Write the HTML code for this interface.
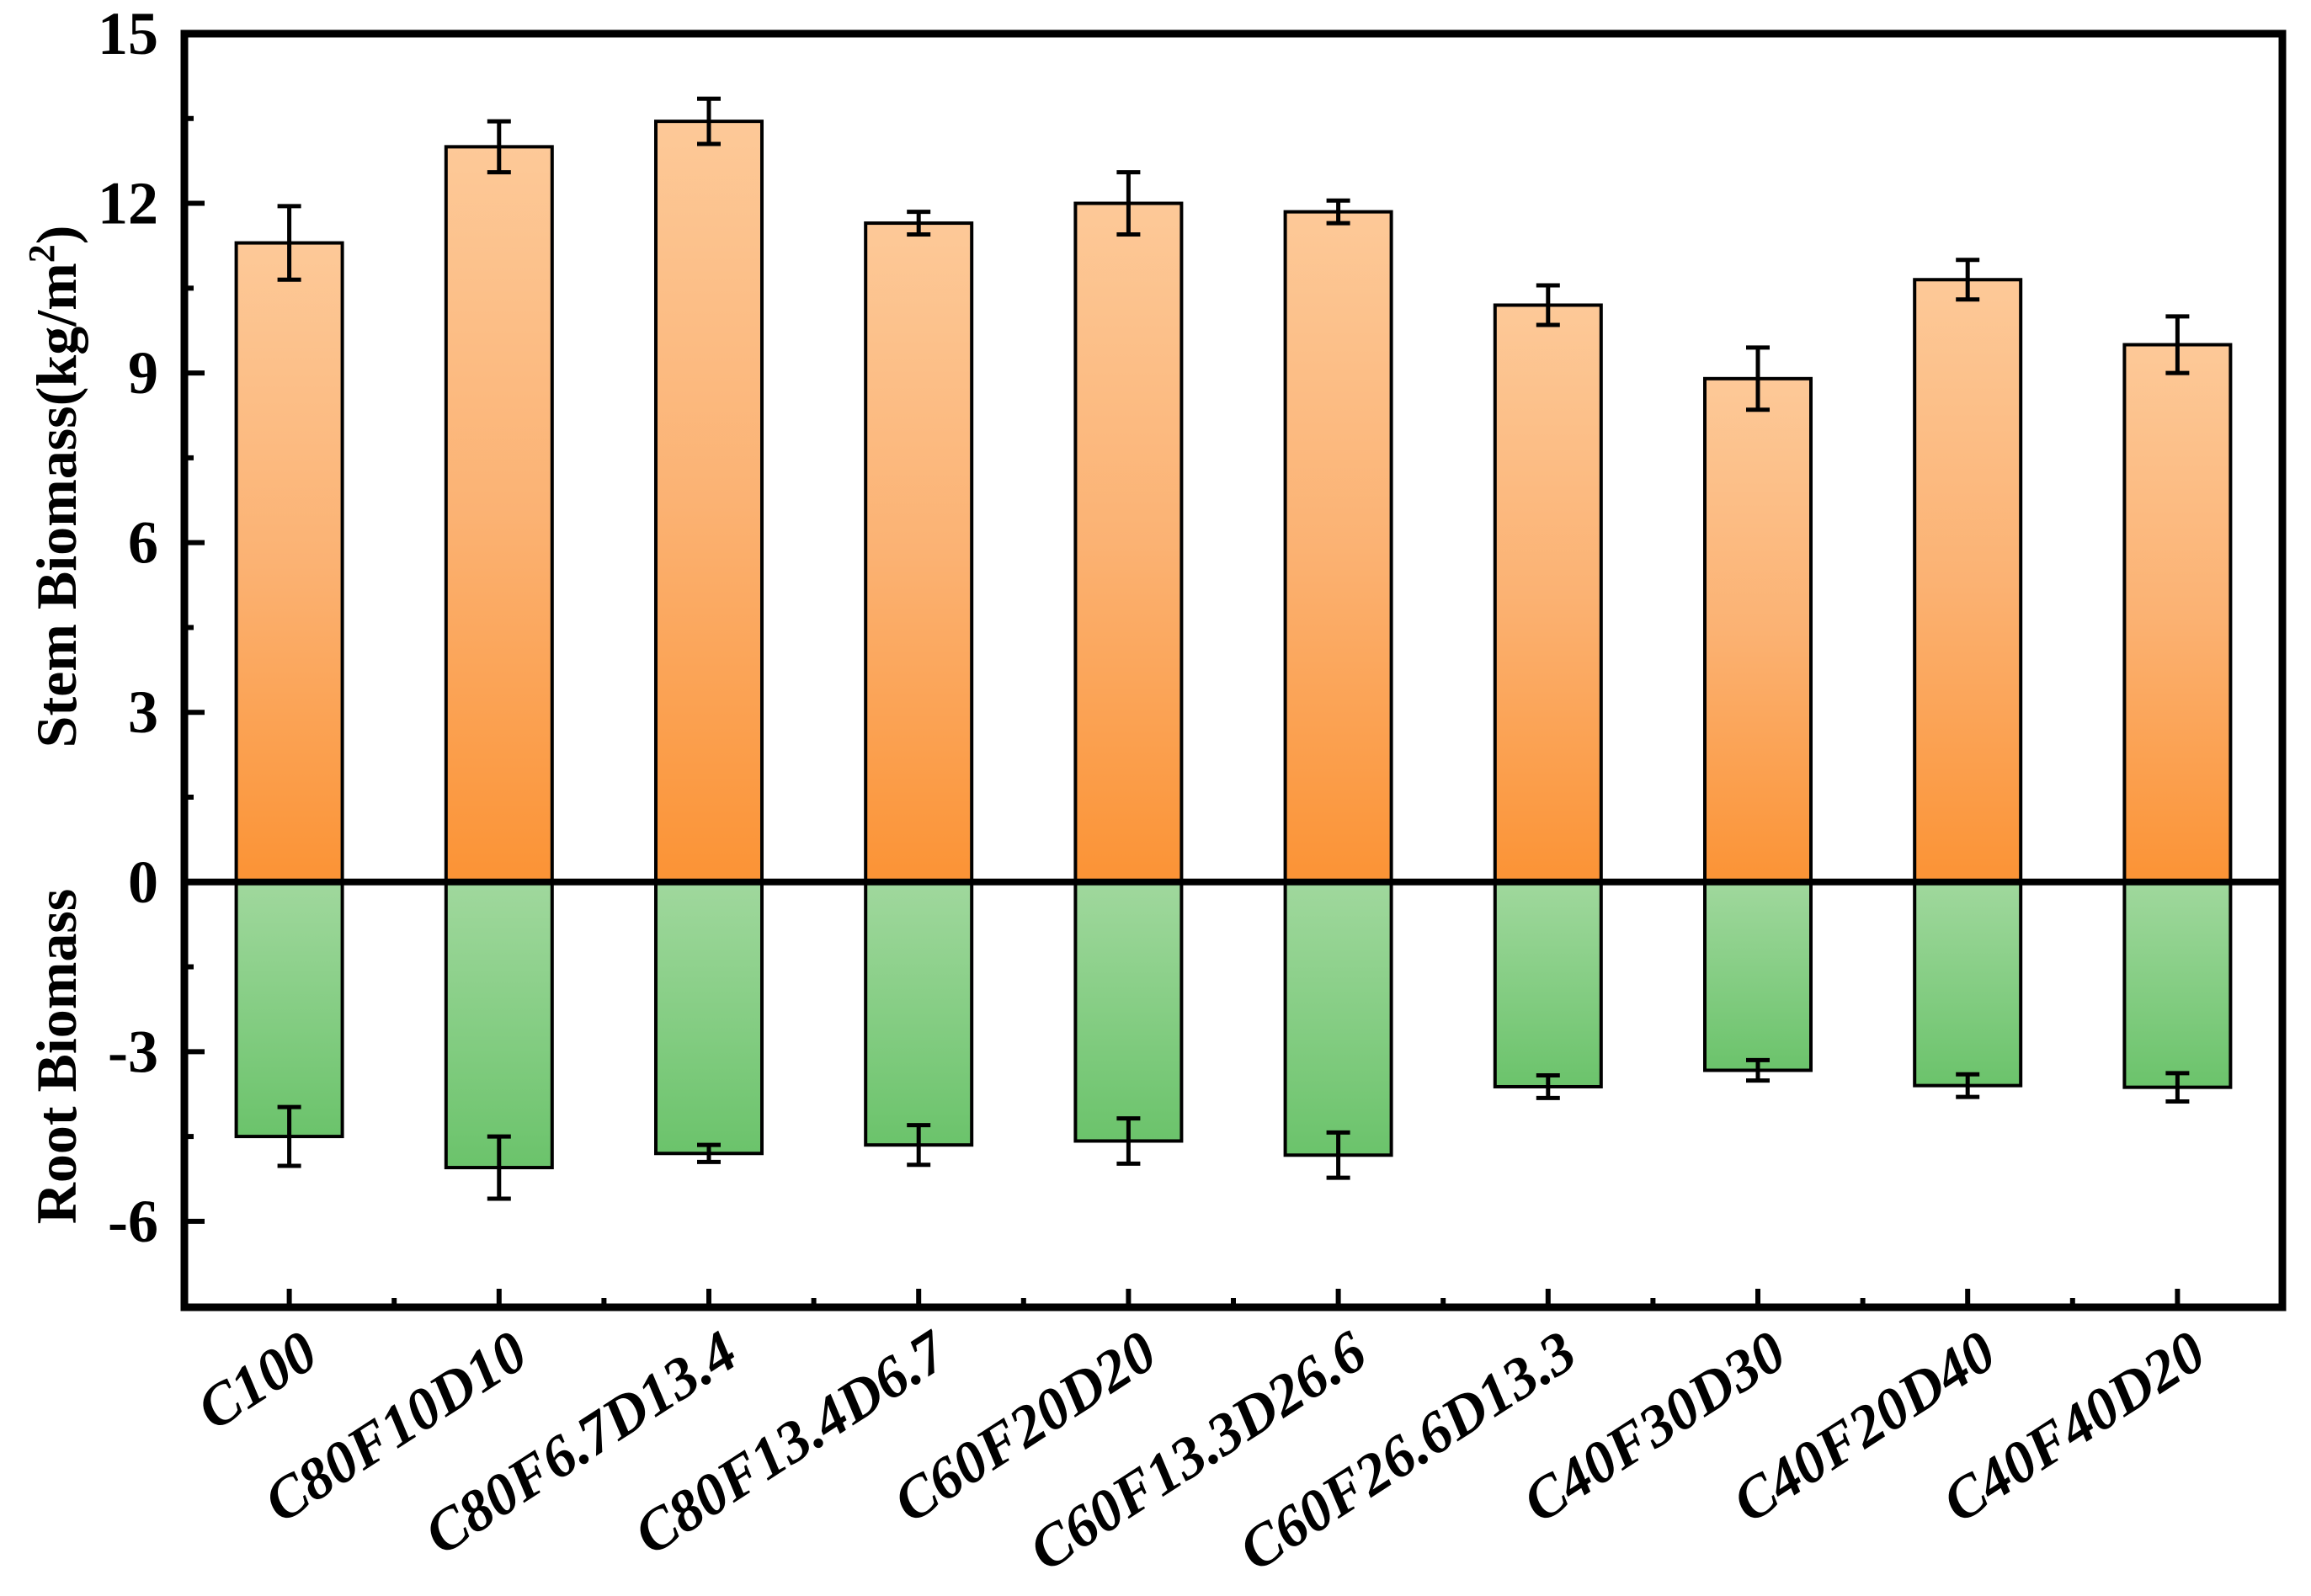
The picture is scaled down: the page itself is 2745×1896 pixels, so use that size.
<!DOCTYPE html>
<html><head><meta charset="utf-8"><style>
html,body{margin:0;padding:0;background:#fff;}
svg text{font-family:"Liberation Serif","Times New Roman",Times,serif;font-weight:bold;}
</style></head><body>
<svg id="chart" width="2745" height="1891" viewBox="0 0 2745 1891" xmlns="http://www.w3.org/2000/svg">
<defs>
<linearGradient id="gOrange" x1="0" y1="0" x2="0" y2="1"><stop offset="0" stop-color="#fdc998"/><stop offset="0.5" stop-color="#fbb273"/><stop offset="1" stop-color="#fb9335"/></linearGradient>
<linearGradient id="gGreen" x1="0" y1="0" x2="0" y2="1"><stop offset="0" stop-color="#a0d89d"/><stop offset="1" stop-color="#6bc36b"/></linearGradient>
</defs>
<g id="plot"></g>
</svg>
<script>
const categories = ["C100","C80F10D10","C80F6.7D13.4","C80F13.4D6.7","C60F20D20","C60F13.3D26.6","C60F26.6D13.3","C40F30D30","C40F20D40","C40F40D20"];
const stemValues = [11.3,13.0,13.45,11.65,12.0,11.85,10.2,8.9,10.65,9.5];
const stemErrors = [0.65,0.45,0.4,0.2,0.55,0.2,0.35,0.55,0.35,0.5];
const rootValues = [-4.5,-5.05,-4.8,-4.65,-4.58,-4.83,-3.62,-3.33,-3.6,-3.63];
const rootErrors = [0.52,0.55,0.15,0.35,0.4,0.4,0.2,0.18,0.2,0.25];
const yTicks = [15,12,9,6,3,0,-3,-6];
const yTickLabels = ["15","12","9","6","3","0","-3","-6"];

const NS="http://www.w3.org/2000/svg";
const FONT='"Liberation Serif", "Times New Roman", Times, serif';
const L=219, R=2711, T=40, B=1553;
const yMax=15, yMin=-7.52;
function y(v){return T+(yMax-v)*(B-T)/(yMax-yMin);}
const band=(R-L)/categories.length;
function x(i){return L+(i+0.5)*band;}
const bw=126;
const g=document.getElementById('plot');
function mk(tag,attrs){const e=document.createElementNS(NS,tag);for(const k in attrs)e.setAttribute(k,attrs[k]);if(tag==='text'){e.setAttribute('font-family',FONT);e.setAttribute('font-weight','bold');}g.appendChild(e);return e;}

function errbar(cx,v,e,name){
  let l=mk('line',{x1:cx,x2:cx,y1:y(v+e),y2:y(v-e),stroke:'#000','stroke-width':5});
  
  
  [v+e,v-e].forEach(t=>{let c=mk('line',{x1:cx-14,x2:cx+14,y1:y(t),y2:y(t),stroke:'#000','stroke-width':5});
    
    });
}
categories.forEach((c,i)=>{
  const cx=x(i);
  let s=mk('rect',{x:cx-bw/2,y:y(stemValues[i]),width:bw,height:y(0)-y(stemValues[i]),fill:'url(#gOrange)',stroke:'#000','stroke-width':4});
  
  
  let r=mk('rect',{x:cx-bw/2,y:y(0),width:bw,height:y(rootValues[i])-y(0),fill:'url(#gGreen)',stroke:'#000','stroke-width':4});
  
  
  errbar(cx,stemValues[i],stemErrors[i],'stem-'+c);
  errbar(cx,rootValues[i],rootErrors[i],'root-'+c);
  let t=mk('line',{x1:cx,x2:cx,y1:B,y2:B-22,stroke:'#000','stroke-width':6});
  
  
  if(i<categories.length-1){
    let m=mk('line',{x1:cx+band/2,x2:cx+band/2,y1:B,y2:B-11,stroke:'#000','stroke-width':6});
    
    
  }
  let lab=mk('text',{x:0,y:0,'text-anchor':'end','font-size':70,'font-style':'italic',transform:`translate(${cx+38},${1618}) rotate(-33)`});
  lab.textContent=c;
  
  
});
let z=mk('line',{x1:L,x2:R,y1:y(0),y2:y(0),stroke:'#000','stroke-width':8});


yTicks.forEach((v,i)=>{
  let t=mk('line',{x1:L,x2:L+24,y1:y(v),y2:y(v),stroke:'#000','stroke-width':6});
  
  
  if(v-1.5>yMin){
    let m=mk('line',{x1:L,x2:L+11,y1:y(v-1.5),y2:y(v-1.5),stroke:'#000','stroke-width':6});
    
    
  }
  let lab=mk('text',{x:188,y:y(v)+24,'text-anchor':'end','font-size':72});
  lab.textContent=yTickLabels[i];
  
  
});
let f=mk('rect',{x:L,y:T,width:R-L,height:B-T,fill:'none',stroke:'#000','stroke-width':9});


let st=mk('text',{x:0,y:0,'text-anchor':'middle','font-size':68,transform:'translate(90,578) rotate(-90)'});
st.innerHTML='Stem Biomass(kg/m<tspan dy="-26" font-size="44">2</tspan><tspan dy="26">)</tspan>';


let rt=mk('text',{x:0,y:0,'text-anchor':'middle','font-size':68,transform:'translate(90,1255) rotate(-90)'});
rt.textContent='Root Biomass';


</script>
</body></html>
